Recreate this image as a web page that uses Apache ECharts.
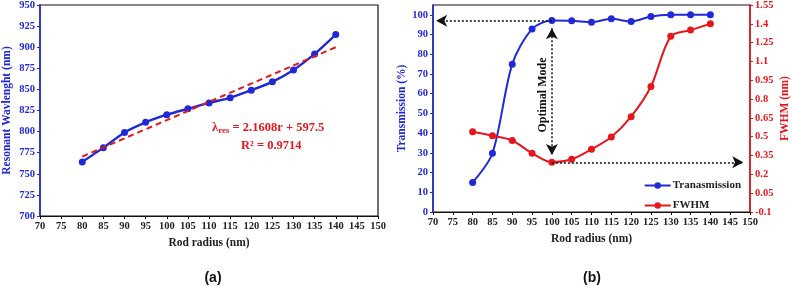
<!DOCTYPE html>
<html>
<head>
<meta charset="utf-8">
<script src="https://cdn.jsdelivr.net/npm/echarts@6/dist/echarts.min.js"></script>
<style>
  html, body { margin: 0; padding: 0; background: #fff; }
  #chart { width: 792px; height: 287px; }
</style>
</head>
<body>
<div id="chart"></div>
<script>
// shared x values (rod radius, nm)
const radius = [80, 85, 90, 95, 100, 105, 110, 115, 120, 125, 130, 135, 140];

// panel (a)
const wavelength = [764, 781, 799, 811, 820, 827, 834, 840, 849, 859, 873, 892, 915];
const trendLine = [[80, 770.4], [140, 900]];

// panel (b)
const transmission = [15, 29.8, 75, 92.8, 97.1, 97, 96.2, 98, 96.6, 99.2, 100, 100, 100];
const fwhm = [0.54, 0.508, 0.47, 0.368, 0.296, 0.32, 0.4, 0.498, 0.66, 0.9, 1.3, 1.35, 1.4];

// annotation arrows in (b), in data units
const arrowLeft = [[100, 97], [70.8, 97]];
const arrowRight = [[100, 0.296], [148.3, 0.296]];
const arrowVertical = [[100, 93.2], [100, 28.9]];

const BLUE = '#2029d6';
const RED = '#e5171c';
const FONT = '"Liberation Serif", "Times New Roman", serif';

const pairs = (ys) => radius.map((r, i) => [r, ys[i]]);

function xAxisFor(gridIndex) {
  return {
    gridIndex,
    type: 'value',
    min: 70,
    max: 150,
    interval: 5,
    name: 'Rod radius (nm)',
    nameLocation: 'middle',
    nameGap: 21,
    nameTextStyle: { fontFamily: FONT, fontWeight: 'bold', fontSize: 11.5, color: '#222' },
    axisLine: { lineStyle: { color: '#111', width: 1.2 } },
    axisTick: { length: 3, lineStyle: { color: '#111' } },
    axisLabel: { fontFamily: FONT, fontWeight: 'bold', fontSize: 10.5, color: '#222', margin: 5 },
    splitLine: { show: false },
  };
}

const chart = echarts.init(document.getElementById('chart'));
chart.setOption({
  animation: false,
  backgroundColor: '#fff',
  grid: [
    { left: 40, right: 414, top: 5, bottom: 71, outerBoundsMode: 'none', containLabel: false, show: true, borderColor: '#111', borderWidth: 1.2 },
    { left: 433, right: 42, top: 5, bottom: 75, outerBoundsMode: 'none', containLabel: false, show: true, borderColor: '#111', borderWidth: 1.2 },
  ],
  legend: {
    orient: 'vertical',
    right: 46,
    top: 175,
    itemGap: 9,
    itemWidth: 26,
    itemHeight: 8,
    data: ['Tranasmission', 'FWHM'],
    textStyle: { fontFamily: FONT, fontWeight: 'bold', fontSize: 11, color: '#222', padding: [0, 0, 0, -3] },
  },
  xAxis: [xAxisFor(0), xAxisFor(1)],
  yAxis: [
    {
      gridIndex: 0,
      type: 'value',
      min: 700,
      max: 950,
      interval: 25,
      name: 'Resonant Wavlenght (nm)',
      nameLocation: 'middle',
      nameGap: 27,
      nameTextStyle: { fontFamily: FONT, fontWeight: 'bold', fontSize: 11.5, color: BLUE },
      axisLine: { lineStyle: { color: BLUE, width: 1.5 } },
      axisTick: { length: 3, lineStyle: { color: BLUE } },
      axisLabel: { fontFamily: FONT, fontWeight: 'bold', fontSize: 10.5, color: BLUE, margin: 5 },
      splitLine: { show: false },
    },
    {
      gridIndex: 1,
      type: 'value',
      min: 0,
      max: 105,
      interval: 10,
      name: 'Transmission (%)',
      nameLocation: 'middle',
      nameGap: 25,
      nameTextStyle: { fontFamily: FONT, fontWeight: 'bold', fontSize: 11.5, color: BLUE },
      axisLine: { lineStyle: { color: BLUE, width: 1.5 } },
      axisTick: { length: 3, lineStyle: { color: BLUE } },
      axisLabel: { fontFamily: FONT, fontWeight: 'bold', fontSize: 10.5, color: BLUE, margin: 5, showMaxLabel: false },
      splitLine: { show: false },
    },
    {
      gridIndex: 1,
      type: 'value',
      position: 'right',
      min: -0.1,
      max: 1.55,
      interval: 0.15,
      name: 'FWHM (nm)',
      nameLocation: 'middle',
      nameRotate: 90,
      nameGap: 29,
      nameTextStyle: { fontFamily: FONT, fontWeight: 'bold', fontSize: 11.5, color: RED },
      axisLine: { onZero: false, lineStyle: { color: RED, width: 1.5 } },
      axisTick: { length: 3, lineStyle: { color: RED } },
      axisLabel: {
        fontFamily: FONT, fontWeight: 'bold', fontSize: 10.5, color: RED, margin: 5,
        formatter: (v) => String(+v.toFixed(2)),
      },
      splitLine: { show: false },
    },
  ],
  series: [
    {
      name: 'Resonant wavelength',
      type: 'line',
      xAxisIndex: 0,
      yAxisIndex: 0,
      data: pairs(wavelength),
      smooth: 0.2,
      symbol: 'circle',
      symbolSize: 7,
      itemStyle: { color: BLUE },
      lineStyle: { color: BLUE, width: 2.4 },
      z: 2,
    },
    {
      name: 'Linear fit',
      type: 'line',
      xAxisIndex: 0,
      yAxisIndex: 0,
      data: trendLine,
      showSymbol: false,
      lineStyle: { color: RED, width: 2, type: [6, 4] },
      z: 3,
    },
    {
      name: 'Tranasmission',
      type: 'line',
      xAxisIndex: 1,
      yAxisIndex: 1,
      data: pairs(transmission),
      smooth: 0.3,
      symbol: 'circle',
      symbolSize: 7,
      itemStyle: { color: BLUE },
      lineStyle: { color: BLUE, width: 2 },
      markLine: {
        silent: true,
        symbol: ['none', 'arrow'],
        symbolSize: [9, 11],
        label: { show: false },
        lineStyle: { color: '#111', width: 1.5, type: [2, 2] },
        data: [
          [{ coord: arrowLeft[0] }, { coord: arrowLeft[1] }],
          [{ coord: arrowVertical[0], symbol: 'arrow' }, { coord: arrowVertical[1] }],
        ],
      },
      z: 3,
    },
    {
      name: 'FWHM',
      type: 'line',
      xAxisIndex: 1,
      yAxisIndex: 2,
      data: pairs(fwhm),
      smooth: 0.3,
      symbol: 'circle',
      symbolSize: 7,
      itemStyle: { color: RED },
      lineStyle: { color: RED, width: 2 },
      markLine: {
        silent: true,
        symbol: ['none', 'arrow'],
        symbolSize: [9, 11],
        label: { show: false },
        lineStyle: { color: '#111', width: 1.5, type: [2, 2] },
        data: [[{ coord: arrowRight[0] }, { coord: arrowRight[1] }]],
      },
      z: 3,
    },
  ],
  graphic: [
    {
      type: 'text',
      left: 212,
      top: 121,
      style: {
        text: '{l|λ}{s|res}{l| = 2.1608r + 597.5}',
        rich: {
          l: { fontFamily: FONT, fontWeight: 'bold', fontSize: 12.5, fill: RED },
          s: { fontFamily: FONT, fontWeight: 'bold', fontSize: 9, fill: RED, verticalAlign: 'bottom', padding: [6, 0, 0, 0] },
        },
      },
    },
    {
      type: 'text',
      left: 241,
      top: 139,
      style: { text: 'R² = 0.9714', font: 'bold 12.5px ' + FONT, fill: RED },
    },
    {
      type: 'text',
      x: 543,
      y: 95,
      rotation: Math.PI / 2,
      style: { text: 'Optimal Mode', font: 'bold 12px ' + FONT, fill: '#111', align: 'center', verticalAlign: 'middle' },
    },
    {
      type: 'text',
      x: 213,
      y: 278,
      style: { text: '(a)', font: 'bold 14px "Liberation Sans", Arial, sans-serif', fill: '#111', align: 'center', verticalAlign: 'middle' },
    },
    {
      type: 'text',
      x: 592,
      y: 278,
      style: { text: '(b)', font: 'bold 14px "Liberation Sans", Arial, sans-serif', fill: '#111', align: 'center', verticalAlign: 'middle' },
    },
  ],
});
</script>
</body>
</html>
